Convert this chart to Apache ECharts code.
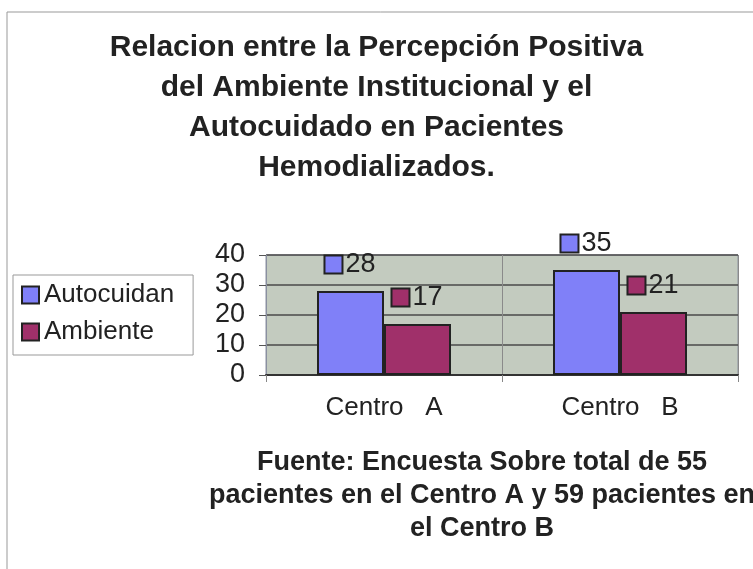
<!DOCTYPE html>
<html>
<head>
<meta charset="utf-8">
<script src="https://cdn.jsdelivr.net/npm/echarts@6/dist/echarts.min.js"></script>
<style>
  html, body { margin: 0; padding: 0; background: #fff; }
  #chart { width: 753px; height: 569px; }
</style>
</head>
<body>
<div id="chart"></div>
<script>
// datos
var categorias = ['Centro   A', 'Centro   B']
var autocuidan = [28, 35]
var ambiente = [17, 21]
var ticksY = [0, 10, 20, 30, 40]

var FONT = 'Liberation Sans, Arial, Helvetica, sans-serif'
var AZUL = '#8080f8'
var GRANATE = '#a0306a'

function etiqueta(color) {
  return {
    show: true,
    position: 'top',
    distance: 13,
    formatter: '{s|}{v|{c}}',
    rich: {
      s: {
        width: 16,
        height: 16,
        backgroundColor: color,
        borderColor: '#222',
        borderWidth: 2
      },
      v: {
        fontSize: 27,
        fontFamily: FONT,
        color: '#222',
        padding: [0, 0, 0, 4]
      }
    }
  }
}

var chart = echarts.init(document.getElementById('chart'))
chart.setOption({
  backgroundColor: '#fff',
  animation: false,
  title: {
    text: 'Relacion entre la Percepción Positiva\ndel Ambiente Institucional y el\nAutocuidado en Pacientes\nHemodializados.',
    left: 'center',
    top: 28,
    padding: [0, 0, 0, 6],
    textStyle: {
      fontFamily: FONT,
      fontSize: 30,
      fontWeight: 'bold',
      lineHeight: 40,
      color: '#222'
    }
  },
  legend: {
    orient: 'vertical',
    left: 13,
    top: 275,
    padding: [7, 19, 10, 8],
    itemGap: 11,
    itemWidth: 17,
    itemHeight: 17,
    icon: 'rect',
    borderColor: '#999',
    borderWidth: 1,
    data: ['Autocuidan', 'Ambiente'],
    textStyle: {
      fontFamily: FONT,
      fontSize: 26,
      color: '#222'
    }
  },
  grid: {
    left: 266,
    right: 15,
    top: 255,
    bottom: 194,
    show: true,
    backgroundColor: '#c3cbbf',
    borderColor: '#8a90a0',
    borderWidth: 1
  },
  xAxis: {
    type: 'category',
    data: categorias,
    axisLine: { lineStyle: { color: '#333', width: 2 } },
    axisTick: { show: true, length: 7, lineStyle: { color: '#888' } },
    splitLine: { show: true, lineStyle: { color: '#8a8a8a', width: 1 } },
    axisLabel: {
      margin: 20,
      fontFamily: FONT,
      fontSize: 26,
      color: '#222'
    }
  },
  yAxis: {
    type: 'value',
    min: ticksY[0],
    max: ticksY[ticksY.length - 1],
    interval: 10,
    axisLine: { show: true, lineStyle: { color: '#8a90a0' } },
    axisTick: { show: true, length: 7, lineStyle: { color: '#555' } },
    splitLine: { lineStyle: { color: '#4a4a4a', width: 1.5 } },
    axisLabel: {
      margin: 21,
      fontFamily: FONT,
      fontSize: 27,
      color: '#222'
    }
  },
  series: [
    {
      name: 'Autocuidan',
      type: 'bar',
      data: autocuidan,
      barWidth: 67,
      barGap: '0%',
      itemStyle: { color: AZUL, borderColor: '#222', borderWidth: 2 },
      label: etiqueta(AZUL)
    },
    {
      name: 'Ambiente',
      type: 'bar',
      data: ambiente,
      barWidth: 67,
      barGap: '0%',
      itemStyle: { color: GRANATE, borderColor: '#222', borderWidth: 2 },
      label: etiqueta(GRANATE)
    }
  ],
  graphic: [
    {
      type: 'rect',
      z: -1,
      shape: { x: 7, y: 12, width: 800, height: 620 },
      style: { fill: 'none', stroke: '#999', lineWidth: 1 }
    },
    {
      type: 'text',
      x: 482,
      y: 446,
      style: {
        text: 'Fuente: Encuesta Sobre total de 55\npacientes en el Centro A y 59 pacientes en\nel Centro B',
        align: 'center',
        verticalAlign: 'top',
        fontFamily: FONT,
        fontSize: 27,
        fontWeight: 'bold',
        lineHeight: 33,
        fill: '#222'
      }
    }
  ]
})
</script>
</body>
</html>
